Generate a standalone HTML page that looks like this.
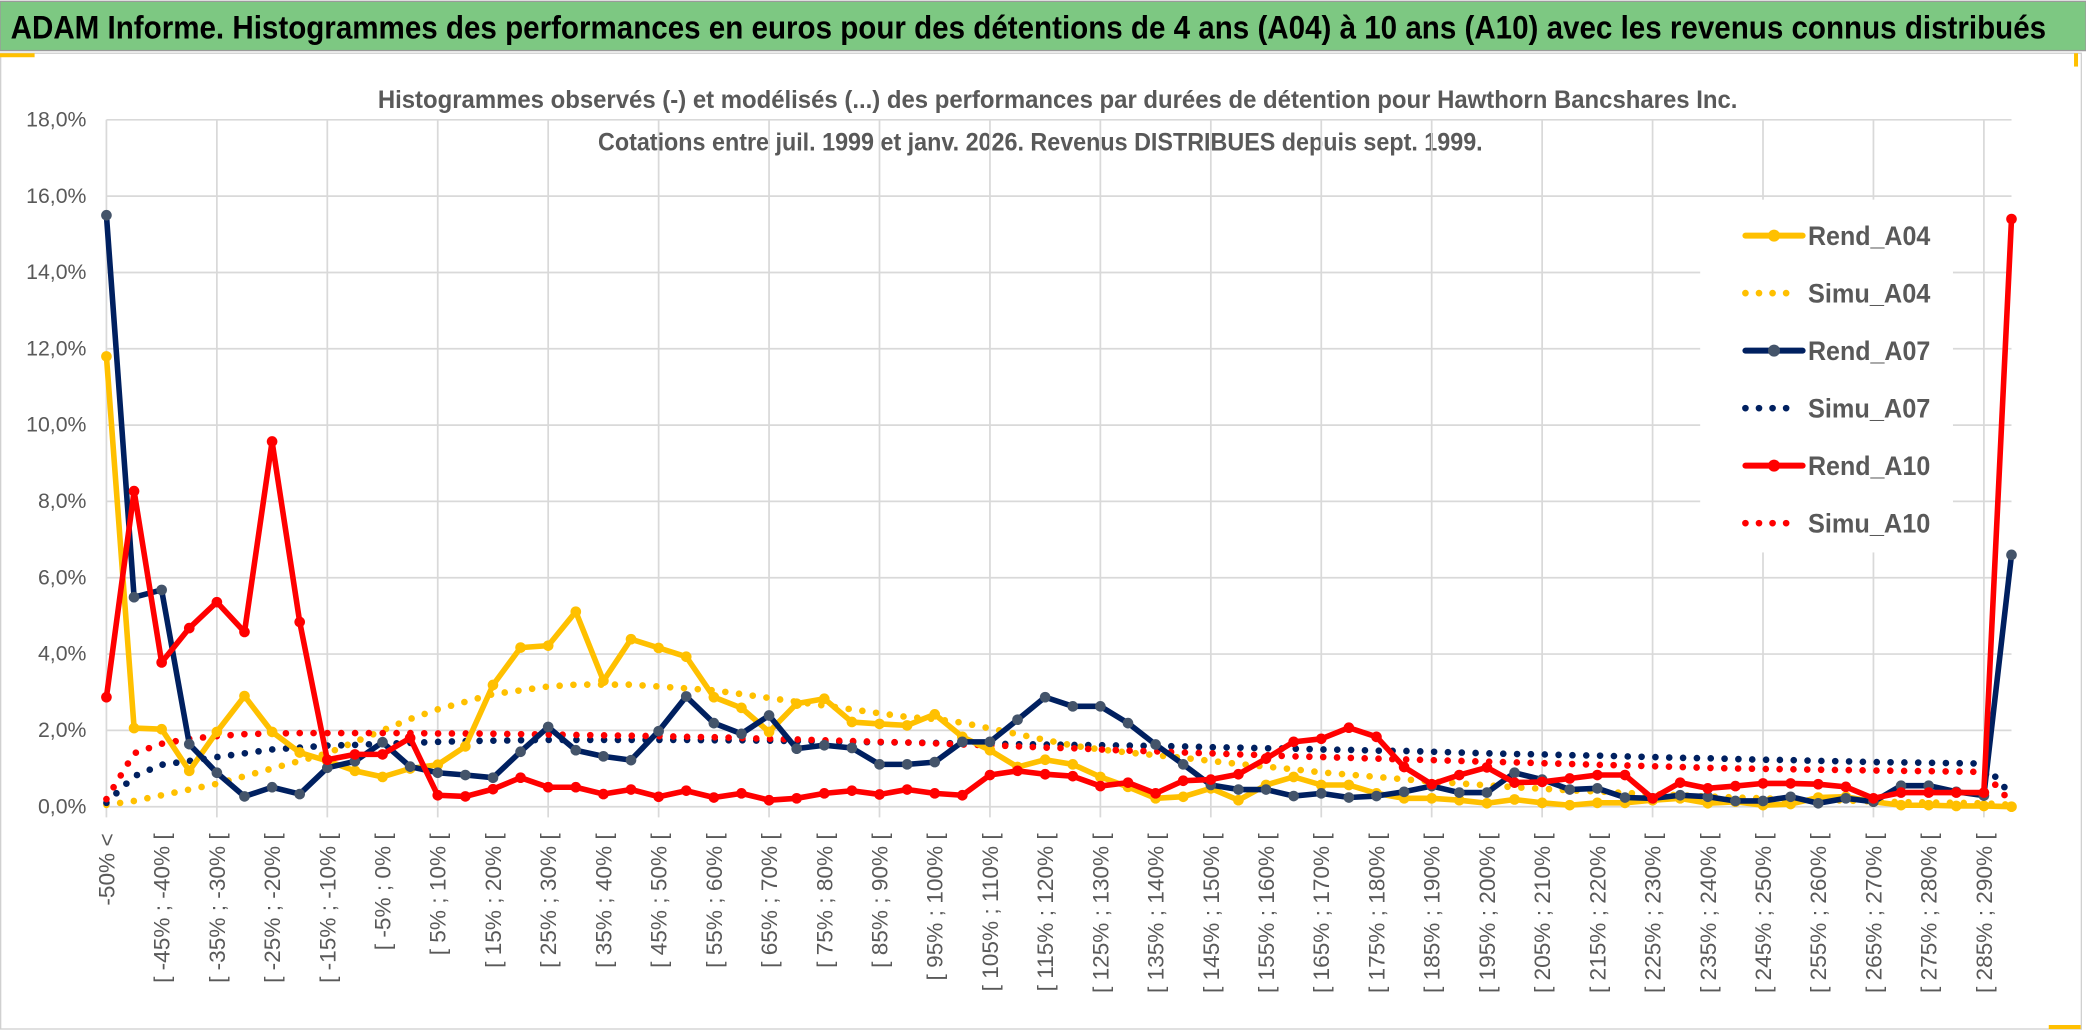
<!DOCTYPE html>
<html><head><meta charset="utf-8"><style>
html,body{margin:0;padding:0;background:#fff;}
svg{display:block;}
text{font-family:"Liberation Sans Narrow","Liberation Sans",sans-serif;}
</style></head><body>
<svg id="chart" width="2086" height="1033" viewBox="0 0 1568 776" preserveAspectRatio="none" xmlns="http://www.w3.org/2000/svg">
<rect x="0" y="0" width="1568" height="776" fill="#fff"/>
<rect x="0" y="1" width="1568" height="37" fill="#7DC882" stroke="#9a9a9a" stroke-width="1"/>
<text x="8" y="29" font-size="24" font-weight="bold" fill="#000" textLength="1530" lengthAdjust="spacingAndGlyphs">ADAM Informe. Histogrammes des performances en euros pour des détentions de 4 ans (A04) à 10 ans (A10) avec les revenus connus distribués</text>
<rect x="0.5" y="40" width="1564" height="733" fill="none" stroke="#d0d0d0" stroke-width="1"/>
<rect x="0" y="40" width="26" height="3" fill="#FFC000"/>
<rect x="1559" y="40" width="3" height="10" fill="#FFC000"/>
<rect x="1540" y="770" width="24" height="3" fill="#FFC000"/>
<text x="795" y="81" font-size="19" font-weight="bold" fill="#595959" text-anchor="middle" textLength="1022" lengthAdjust="spacingAndGlyphs">Histogrammes observés (-) et modélisés (...) des performances par durées de détention pour Hawthorn Bancshares Inc.</text>
<text x="782" y="113" font-size="19" font-weight="bold" fill="#595959" text-anchor="middle" textLength="665" lengthAdjust="spacingAndGlyphs">Cotations entre juil. 1999 et janv. 2026. Revenus DISTRIBUES depuis sept. 1999.</text>
<g id="grid"></g><g id="series"></g><g id="legend"></g><g id="axes"></g>
</svg>
<script>
const categories = [];
for (let k = 0; k < 70; k++) { categories.push(k === 0 ? "-50% <" : "[ " + (-55 + 5 * k) + "% ; " + (-50 + 5 * k) + "% ["); }
const yTicks = [0, 2, 4, 6, 8, 10, 12, 14, 16, 18];
const yTickLabels = ["0,0%","2,0%","4,0%","6,0%","8,0%","10,0%","12,0%","14,0%","16,0%","18,0%"];
const rendA04 = [11.8,2.06,2.03,0.94,1.96,2.9,1.96,1.42,1.2,0.94,0.78,1.0,1.1,1.58,3.19,4.17,4.22,5.11,3.3,4.39,4.16,3.93,2.87,2.59,1.96,2.7,2.83,2.22,2.17,2.13,2.42,1.83,1.48,1.04,1.23,1.11,0.78,0.52,0.22,0.26,0.48,0.17,0.57,0.78,0.57,0.57,0.35,0.22,0.22,0.17,0.09,0.19,0.1,0.04,0.1,0.1,0.17,0.22,0.09,0.13,0.04,0.07,0.24,0.26,0.13,0.04,0.04,0.02,0.02,0.0];
const simuA04 = [0.05,0.15,0.3,0.45,0.6,0.8,1.0,1.2,1.4,1.7,2.0,2.3,2.55,2.75,2.95,3.05,3.15,3.2,3.2,3.2,3.15,3.1,3.05,2.95,2.85,2.75,2.65,2.55,2.45,2.35,2.3,2.2,2.05,1.9,1.75,1.6,1.5,1.42,1.35,1.28,1.2,1.12,1.05,0.98,0.9,0.84,0.78,0.72,0.66,0.61,0.56,0.51,0.47,0.43,0.4,0.36,0.33,0.3,0.27,0.24,0.22,0.2,0.18,0.16,0.14,0.12,0.11,0.1,0.09,0.05];
const rendA07 = [15.5,5.49,5.68,1.64,0.89,0.27,0.51,0.33,1.02,1.19,1.69,1.05,0.89,0.83,0.76,1.44,2.09,1.48,1.32,1.22,1.98,2.89,2.19,1.91,2.39,1.52,1.61,1.54,1.11,1.11,1.17,1.7,1.7,2.28,2.87,2.63,2.63,2.19,1.63,1.11,0.57,0.45,0.45,0.28,0.35,0.24,0.28,0.39,0.54,0.37,0.37,0.89,0.71,0.45,0.48,0.24,0.22,0.3,0.26,0.15,0.15,0.26,0.09,0.22,0.13,0.55,0.55,0.39,0.29,6.6];
const simuA07 = [0.1,0.8,1.1,1.2,1.3,1.4,1.5,1.55,1.6,1.62,1.65,1.67,1.7,1.72,1.73,1.74,1.75,1.75,1.75,1.75,1.75,1.75,1.74,1.74,1.73,1.72,1.71,1.7,1.69,1.68,1.67,1.66,1.65,1.64,1.63,1.62,1.61,1.6,1.59,1.58,1.56,1.55,1.53,1.52,1.5,1.49,1.47,1.46,1.44,1.42,1.4,1.38,1.37,1.35,1.34,1.32,1.3,1.28,1.27,1.25,1.23,1.22,1.2,1.19,1.17,1.16,1.15,1.14,1.13,0.3];
const rendA10 = [2.87,8.27,3.78,4.68,5.36,4.58,9.57,4.84,1.23,1.37,1.37,1.8,0.3,0.27,0.46,0.76,0.51,0.51,0.33,0.45,0.26,0.42,0.24,0.35,0.17,0.22,0.35,0.42,0.32,0.45,0.35,0.3,0.83,0.94,0.85,0.8,0.54,0.63,0.35,0.68,0.71,0.85,1.26,1.7,1.78,2.07,1.83,1.04,0.59,0.83,1.03,0.63,0.65,0.74,0.83,0.83,0.22,0.63,0.48,0.54,0.61,0.61,0.59,0.52,0.22,0.37,0.37,0.37,0.37,15.4];
const simuA10 = [0.2,1.4,1.65,1.78,1.85,1.9,1.92,1.93,1.93,1.93,1.93,1.93,1.92,1.92,1.91,1.9,1.89,1.88,1.87,1.86,1.85,1.83,1.82,1.8,1.78,1.76,1.74,1.72,1.7,1.68,1.66,1.63,1.61,1.58,1.55,1.53,1.5,1.47,1.45,1.42,1.4,1.37,1.35,1.32,1.3,1.28,1.26,1.24,1.22,1.2,1.18,1.16,1.14,1.12,1.1,1.08,1.06,1.04,1.02,1.0,0.99,0.98,0.97,0.96,0.95,0.94,0.93,0.92,0.91,0.1];

const NS = "http://www.w3.org/2000/svg";
const X0 = 80, X1 = 1512, Y0 = 606, YTOP = 90, YMAX = 18;
function xs(i) { return X0 + i * (X1 - X0) / (categories.length - 1); }
function ys(v) { return Y0 - v * (Y0 - YTOP) / YMAX; }
function mk(tag, attrs, parent) { const e = document.createElementNS(NS, tag); for (const k in attrs) e.setAttribute(k, attrs[k]); parent.appendChild(e); return e; }

const grid = document.getElementById('grid');
yTicks.forEach((t, j) => {
  const l = mk('line', {x1: X0, x2: X1, y1: ys(t), y2: ys(t), stroke: '#d9d9d9', 'stroke-width': 1.3}, grid);
  
  
  const tx = mk('text', {x: 65, y: ys(t) + 5, 'font-size': 16, fill: '#595959', 'text-anchor': 'end'}, grid);
  tx.textContent = yTickLabels[j];
  
  
});
for (let i = 0; i < categories.length; i += 4) {
  const l = mk('line', {x1: xs(i), x2: xs(i), y1: YTOP, y2: Y0 + 8, stroke: '#d9d9d9', 'stroke-width': 1.3}, grid);
  
  
}
const axes = document.getElementById('axes');
for (let i = 0; i < categories.length; i += 2) {
  const x = xs(i) + 6, y = 626;
  const tx = mk('text', {x: x, y: y, 'font-size': 17, fill: '#595959', 'text-anchor': 'end', transform: 'rotate(-90 ' + x + ' ' + y + ')'}, axes);
  tx.textContent = categories[i];
  
  
}

const seriesG = document.getElementById('series');
function pathFor(arr) { return arr.map((v, i) => (i ? 'L' : 'M') + xs(i).toFixed(1) + ' ' + ys(v).toFixed(1)).join(' '); }
function dotted(arr, color, name) {
  const p = mk('path', {d: pathFor(arr), fill: 'none', stroke: color, 'stroke-width': 5, 'stroke-linecap': 'round', 'stroke-dasharray': '0 10.4'}, seriesG);
  
  
}
function solid(arr, color, mcolor, name) {
  const p = mk('path', {d: pathFor(arr), fill: 'none', stroke: color, 'stroke-width': 4.2, 'stroke-linejoin': 'round'}, seriesG);
  
  
  arr.forEach((v, i) => {
    const c = mk('circle', {cx: xs(i), cy: ys(v), r: 4, fill: mcolor}, seriesG);
    
    
  });
}
dotted(simuA04, '#FFC000', 'simu-a04-line');
dotted(simuA07, '#002060', 'simu-a07-line');
dotted(simuA10, '#FF0000', 'simu-a10-line');
solid(rendA04, '#FFC000', '#FFC000', 'rend-a04-line');
solid(rendA07, '#002060', '#44546A', 'rend-a07-line');
solid(rendA10, '#FF0000', '#FF0000', 'rend-a10-line');

const leg = document.getElementById('legend');
const lb = mk('rect', {x: 1278, y: 150, width: 190, height: 265, fill: '#fff'}, leg);


const legendNames = ['Rend_A04','Simu_A04','Rend_A07','Simu_A07','Rend_A10','Simu_A10'];
const legendColors = ['#FFC000','#FFC000','#002060','#002060','#FF0000','#FF0000'];
const legendMarker = ['#FFC000',null,'#44546A',null,'#FF0000',null];
legendNames.forEach((n, j) => {
  const y = 177 + j * 43.2;
  const g = mk('g', {}, leg);
  
  
  if (legendMarker[j]) {
    mk('line', {x1: 1312, x2: 1355, y1: y, y2: y, stroke: legendColors[j], 'stroke-width': 4.5, 'stroke-linecap': 'round'}, g);
    mk('circle', {cx: 1333.5, cy: y, r: 4.5, fill: legendMarker[j]}, g);
  } else {
    mk('line', {x1: 1312, x2: 1352, y1: y, y2: y, stroke: legendColors[j], 'stroke-width': 5, 'stroke-linecap': 'round', 'stroke-dasharray': '0 10.2'}, g);
  }
  const t = mk('text', {x: 1359, y: y + 7, 'font-size': 20, 'font-weight': 'bold', fill: '#595959', textLength: 92, lengthAdjust: 'spacingAndGlyphs'}, g);
  t.textContent = n;
});
</script>
</body></html>
